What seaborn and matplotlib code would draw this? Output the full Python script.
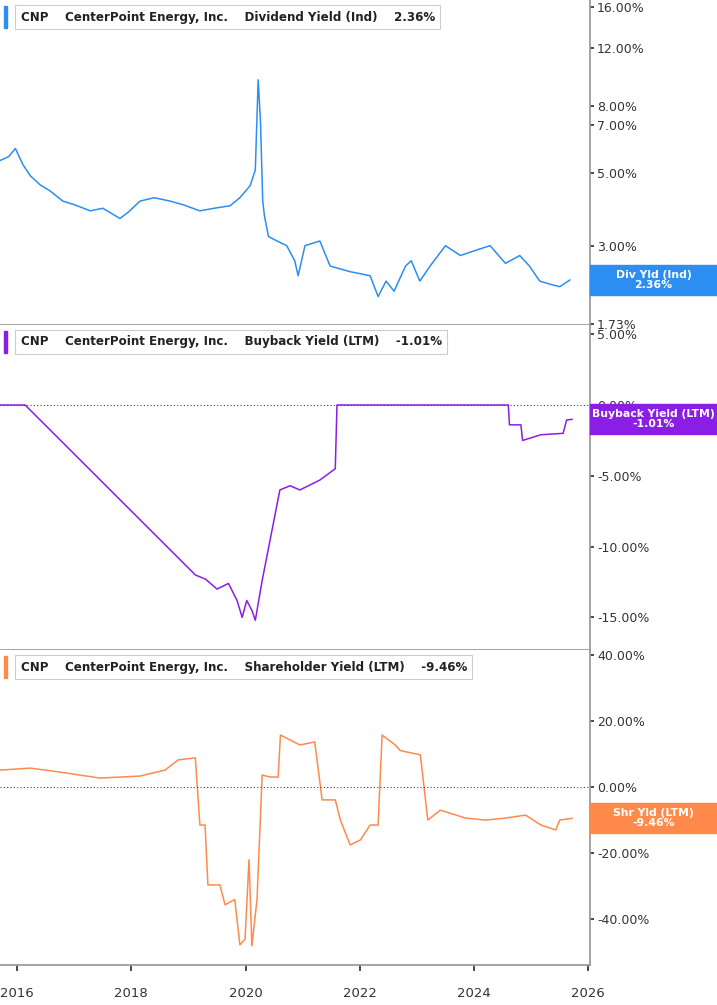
import matplotlib
matplotlib.use("Agg")
import matplotlib.pyplot as plt
from matplotlib.patches import Rectangle
import numpy as np
import pandas as pd
import seaborn as sns

sns.set_theme(style="white")

# Dividend yield (%), decimal year
div_x = [2015.70, 2015.85, 2015.97, 2016.10, 2016.23, 2016.40, 2016.58, 2016.80, 2017.00, 2017.28,
         2017.50, 2017.80, 2017.95, 2018.15, 2018.40, 2018.68, 2018.90, 2019.20, 2019.45, 2019.73,
         2019.90, 2020.08, 2020.17, 2020.22, 2020.26, 2020.30, 2020.33, 2020.40, 2020.55, 2020.72,
         2020.86, 2020.92, 2021.04, 2021.30, 2021.48, 2021.83, 2022.18, 2022.32, 2022.46, 2022.60,
         2022.80, 2022.90, 2023.05, 2023.23, 2023.50, 2023.76, 2024.02, 2024.28, 2024.55, 2024.80,
         2024.97, 2025.15, 2025.33, 2025.50, 2025.68]
div_y = [5.45, 5.6, 5.93, 5.3, 4.9, 4.6, 4.4, 4.1, 4.0, 3.83,
         3.9, 3.63, 3.8, 4.1, 4.2, 4.1, 4.0, 3.83, 3.9, 3.97,
         4.2, 4.57, 5.1, 9.6, 7.2, 4.1, 3.7, 3.2, 3.1, 3.0,
         2.7, 2.43, 3.0, 3.1, 2.6, 2.5, 2.43, 2.1, 2.34, 2.18,
         2.6, 2.7, 2.34, 2.6, 3.0, 2.8, 2.9, 3.0, 2.65, 2.8,
         2.6, 2.34, 2.29, 2.25, 2.36]

# Buyback yield (%)
bb_x = [2015.70, 2016.14, 2019.12, 2019.30, 2019.50, 2019.70, 2019.85, 2019.94, 2020.02, 2020.11,
        2020.17, 2020.29, 2020.60, 2020.78, 2020.95, 2021.30, 2021.57, 2021.60, 2024.60, 2024.62,
        2024.82, 2024.85, 2025.17, 2025.56, 2025.62, 2025.72]
bb_y = [0.0, 0.0, -12.0, -12.3, -13.0, -12.6, -13.8, -15.0, -13.8, -14.5,
        -15.2, -12.4, -6.0, -5.7, -6.0, -5.3, -4.5, 0.0, 0.0, -1.4,
        -1.4, -2.5, -2.1, -2.0, -1.06, -1.01]

# Shareholder yield (%)
sh_x = [2015.70, 2016.23, 2016.75, 2017.45, 2018.15, 2018.59, 2018.82, 2019.12, 2019.20, 2019.29,
        2019.34, 2019.55, 2019.64, 2019.81, 2019.90, 2019.99, 2020.06, 2020.11, 2020.20, 2020.29,
        2020.43, 2020.57, 2020.61, 2020.78, 2020.95, 2021.21, 2021.34, 2021.57, 2021.66, 2021.83,
        2022.01, 2022.18, 2022.32, 2022.39, 2022.62, 2022.71, 2023.06, 2023.19, 2023.41, 2023.85,
        2024.20, 2024.55, 2024.90, 2025.17, 2025.43, 2025.50, 2025.72]
sh_y = [5.1, 5.7, 4.5, 2.7, 3.3, 5.1, 8.2, 8.8, -11.5, -11.5,
        -29.6, -29.6, -35.6, -34.0, -47.7, -46.0, -22.0, -48.0, -34.0, 3.6,
        3.0, 3.0, 15.7, 14.2, 12.7, 13.6, -3.9, -3.9, -10.0, -17.5,
        -16.0, -11.5, -11.5, 15.7, 12.7, 11.0, 9.7, -10.0, -7.0, -9.4,
        -10.0, -9.4, -8.5, -11.5, -13.0, -10.0, -9.46]

BLUE = "#2b8ef0"
PURPLE = "#8a1ee6"
ORANGE = "#ff8a4c"
W, H = 717, 1005

fig = plt.figure(figsize=(W / 100, H / 100), dpi=100)
right = 590 / W
panels = [(0, 325), (325, 650), (650, 965)]
axes = [fig.add_axes([0, 1 - b / H, right, (b - t) / H]) for t, b in panels]

specs = [
    (axes[0], div_x, div_y, BLUE, "Dividend Yield (Ind)", "2.36%", "Div Yld (Ind)", 2.36),
    (axes[1], bb_x, bb_y, PURPLE, "Buyback Yield (LTM)", "-1.01%", "Buyback Yield (LTM)", -1.01),
    (axes[2], sh_x, sh_y, ORANGE, "Shareholder Yield (LTM)", "-9.46%", "Shr Yld (LTM)", -9.46),
]

for ax, xs, ys, col, name, val, short, last in specs:
    df = pd.DataFrame({"x": xs, "y": ys})
    sns.lineplot(data=df, x="x", y="y", ax=ax, color=col, linewidth=1.1)
    ax.set_xlim(2015.70, 2026.03)
    ax.set_xlabel("")
    ax.set_ylabel("")
    ax.yaxis.tick_right()
    ax.tick_params(axis="y", labelsize=9, colors="#333333", length=3, pad=2)
    for s in ["left", "top"]:
        ax.spines[s].set_visible(False)
    ax.spines["right"].set_color("#999999")
    ax.spines["bottom"].set_color("#999999")

axes[0].set_yscale("log")
axes[0].set_ylim(1.72, 16.8)
t0 = [1.73, 3, 5, 7, 8, 12, 16]
axes[0].set_yticks(t0)
axes[0].set_yticklabels([f"{v:.2f}%" for v in t0])
axes[0].minorticks_off()

axes[1].set_ylim(-17.3, 5.65)
t1 = [-15, -10, -5, 0, 5]
axes[1].set_yticks(t1)
axes[1].set_yticklabels([f"{v:.2f}%" for v in t1])

axes[2].set_ylim(-53.8, 41.4)
t2 = [-40, -20, 0, 20, 40]
axes[2].set_yticks(t2)
axes[2].set_yticklabels([f"{v:.2f}%" for v in t2])

for ax in axes[1:]:
    ax.axhline(0, color="#444444", linestyle=(0, (1, 2)), linewidth=0.8)

for ax in axes[:2]:
    ax.set_xticks([])
axes[2].set_xticks([2016, 2018, 2020, 2022, 2024, 2026])
axes[2].set_xticklabels(["2016", "2018", "2020", "2022", "2024", "2026"])
axes[2].tick_params(axis="x", labelsize=9.5, colors="#333333", length=4, bottom=True, pad=12)

fig.canvas.draw()
for (ax, xs, ys, col, name, val, short, last), (t, b) in zip(specs, panels):
    # legend box
    ax.text(0.035, 1 - 17 / (b - t), f"CNP    CenterPoint Energy, Inc.    {name}    {val}",
            transform=ax.transAxes, fontsize=8.6, fontweight="bold", color="#222222",
            va="center", ha="left",
            bbox=dict(boxstyle="square,pad=0.45", fc="white", ec="#cccccc", lw=0.8))
    fig.patches.append(Rectangle((4 / W, 1 - (t + 28) / H), 3 / W, 22 / H,
                                 transform=fig.transFigure, color=col))
    # value tag on the right
    yd = ax.transData.transform((2020, last))[1] / H
    fig.patches.append(Rectangle((right, yd - 15 / H), 1 - right, 30 / H,
                                 transform=fig.transFigure, color=col, zorder=5))
    fig.text((right + 1) / 2, yd, f"{short}\n{val}", color="white", fontsize=7.8,
             fontweight="bold", ha="center", va="center", linespacing=1.0, zorder=6)

fig.savefig("out.png", dpi=100)
